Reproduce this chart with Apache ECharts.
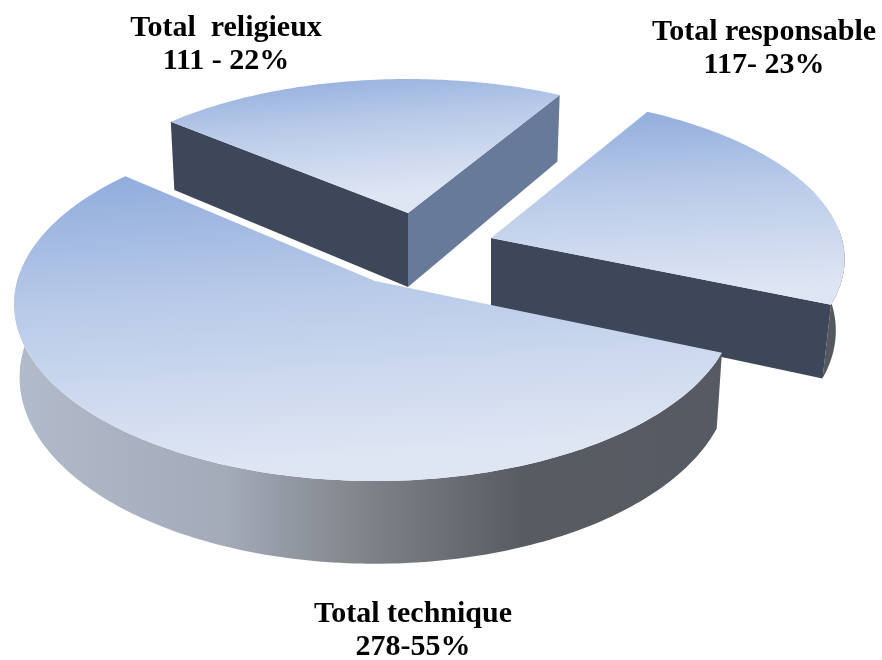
<!DOCTYPE html>
<html>
<head>
<meta charset="utf-8">
<style>
  html, body { margin: 0; padding: 0; background: #fff; }
  #chart { width: 882px; height: 660px; }
</style>
<script src="https://cdn.jsdelivr.net/npm/echarts@6/dist/echarts.min.js"></script>
</head>
<body>
<div id="chart"></div>
<script>
// data, back slices first so the big one paints over them
const categories = ['Total  religieux', 'Total responsable', 'Total technique']
const counts = [111, 117, 278]
const countLabels = ['111 - 22%', '117- 23%', '278-55%']

// layout of each exploded slice
const centers = [[408, 213], [491, 238], [375, 281]]
const scaleX = [0.955, 0.985, 1.005]
const scaleY = [0.87, 0.93, 1]
const depths = [74, 70, 72]
const tapers = [0.015, 0.025, 0.015]
const labelPos = [[226, 45], [764, 49], [413, 631]]

// fake 3d: tilted disc with a little perspective
const startAngle = 220.8
const radiusX = 356
const radiusY = 174
const persp = 0.13

const total = counts.reduce((a, b) => a + b, 0)

const topFill = {
  type: 'linear', x: 0, y: 0, x2: 0.03, y2: 1,
  colorStops: [
    { offset: 0, color: '#8fabdc' },
    { offset: 0.45, color: '#b9cbe9' },
    { offset: 1, color: '#dfe6f3' }
  ]
}
const roundFill = {
  type: 'linear', x: 0, y: 0, x2: 1, y2: 0,
  colorStops: [
    { offset: 0, color: '#b2bbcb' },
    { offset: 0.3, color: '#a3aab8' },
    { offset: 0.5, color: '#7f8389' },
    { offset: 0.72, color: '#585b61' },
    { offset: 1, color: '#565a63' }
  ]
}
const wallColor = { left: '#3d4759', right: '#677a9a', edge: '#55585e' }

function project(i, deg, r, lower) {
  const a = deg * Math.PI / 180
  const u = Math.cos(a) * r
  const v = Math.sin(a) * r
  const s = 1 / (1 - persp * v)
  let x = radiusX * scaleX[i] * u * s
  let y = radiusY * scaleY[i] * v * s
  if (lower) {
    x = x * (1 - tapers[i])
    y = y + depths[i] * s
  }
  return [centers[i][0] + x, centers[i][1] + y]
}

function arcPoints(i, from, to, lower) {
  const pts = []
  for (let d = from; d <= to; d += 1) pts.push(project(i, d, 1, lower))
  pts.push(project(i, to, 1, lower))
  return pts
}

function poly(points, fill) {
  return { type: 'polygon', shape: { points: points }, style: { fill: fill } }
}

function renderSlice(params, api) {
  const i = params.dataIndex
  let from = startAngle
  for (let k = 0; k < i; k++) from += counts[k] / total * 360
  const to = from + api.value(0) / total * 360
  const children = []
  const radA = from * Math.PI / 180
  const radB = to * Math.PI / 180

  // round wall on the front half
  const ranges = [[from, to], [from - 360, to - 360]]
  ranges.forEach(r => {
    const a = Math.max(r[0], -3)
    const b = Math.min(r[1], 183)
    if (b > a) {
      const wall = arcPoints(i, a, b, false).concat(arcPoints(i, a, b, true).reverse())
      // the small sliver on the right stays dark, the gradient needs the full width
      children.push(poly(wall, b - a > 90 ? roundFill : wallColor.edge))
    }
  })

  // straight walls, only when facing us
  if (Math.cos(radA) < 0) {
    children.push(poly([
      project(i, from, 0, false), project(i, from, 1, false),
      project(i, from, 1, true), project(i, from, 0, true)
    ], wallColor.left))
  }
  if (Math.cos(radB) > 0) {
    children.push(poly([
      project(i, to, 0, false), project(i, to, 1, false),
      project(i, to, 1, true), project(i, to, 0, true)
    ], i === 0 ? wallColor.right : wallColor.left))
  }

  // top face
  const top = [project(i, from, 0, false)].concat(arcPoints(i, from, to, false))
  children.push(poly(top, topFill))

  children.push({
    type: 'text',
    x: labelPos[i][0],
    y: labelPos[i][1],
    style: {
      text: categories[i] + '\n' + countLabels[i],
      fontFamily: 'Liberation Serif',
      fontWeight: 'bold',
      fontSize: 30,
      lineHeight: 33,
      fill: '#000',
      align: 'center',
      verticalAlign: 'middle'
    }
  })
  return { type: 'group', children: children }
}

const chart = echarts.init(document.getElementById('chart'))
chart.setOption({
  animation: false,
  backgroundColor: '#fff',
  series: [
    {
      type: 'custom',
      coordinateSystem: 'none',
      silent: true,
      renderItem: renderSlice,
      data: counts.map(c => [c])
    }
  ]
})
</script>
</body>
</html>
